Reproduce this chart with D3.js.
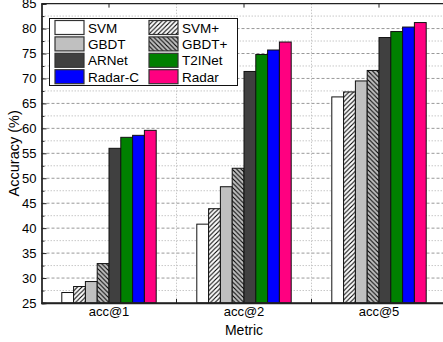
<!DOCTYPE html>
<head>
    <title>Accuracy by metric</title>
    <script src='https://cdn.jsdelivr.net/npm/d3@7/dist/d3.min.js'></script>
</head>
<style>
body { margin: 0; background: #fff; }
text { font-family: 'Liberation Sans', Arial, sans-serif; fill: #000; }
</style>
<body>
    <svg></svg>
</body>

<script>

    // Data
    var metrics = ['acc@1', 'acc@2', 'acc@5'];
    var methods = ['SVM', 'SVM+', 'GBDT', 'GBDT+', 'ARNet', 'T2INet', 'Radar-C', 'Radar'];
    var svm    = [27.1, 40.8, 66.3];
    var svmP   = [28.3, 43.9, 67.3];
    var gbdt   = [29.3, 48.3, 69.5];
    var gbdtP  = [32.9, 52.0, 71.6];
    var arnet  = [56.0, 71.4, 78.2];
    var t2inet = [58.2, 74.8, 79.4];
    var radarC = [58.6, 75.7, 80.3];
    var radar  = [59.6, 77.3, 81.2];
    var yTicks = [25, 30, 35, 40, 45, 50, 55, 60, 65, 70, 75, 80, 85];

    var series = [svm, svmP, gbdt, gbdtP, arnet, t2inet, radarC, radar];
    var fills = ['#ffffff', 'url(#hatchF)', '#c0c0c0', 'url(#hatchB)', '#404040', '#008000', '#0000ff', '#ff0080'];

    var vWidth = 443, vHeight = 342;
    var pLeft = 41.5, pTop = 3.6, pBottom = 303, pRight = 446.5;

    var svg = d3.select('svg').attr('width', vWidth).attr('height', vHeight);

    // hatch patterns
    var defs = svg.append('defs');
    function hatch(id, bg, dir) {
        var p = defs.append('pattern').attr('id', id).attr('patternUnits', 'userSpaceOnUse')
            .attr('width', 4.5).attr('height', 4.5);
        p.append('rect').attr('width', 4.5).attr('height', 4.5).attr('fill', bg);
        var d = dir > 0 ? 'M-1,5.5 L5.5,-1 M-1,1 L1,-1 M3.5,5.5 L5.5,3.5' : 'M-1,-1 L5.5,5.5 M-1,3.5 L1,5.5 M3.5,-1 L5.5,1';
        p.append('path').attr('d', d).attr('stroke', '#000').attr('stroke-width', 1.1);
    }
    hatch('hatchF', '#ffffff', 1);
    hatch('hatchB', '#c0c0c0', -1);

    var x0 = d3.scaleBand().domain(metrics).range([pLeft, pRight]);
    var x1 = d3.scaleBand().domain(methods).range([0, x0.bandwidth()]).paddingOuter(1.72);
    var y = d3.scaleLinear().domain([25, 85]).range([pBottom, pTop]);

    // grid
    var grid = svg.append('g');
    var minor = d3.range(27.5, 85, 5);
    grid.selectAll('.minor').data(minor).enter().append('line')
        .attr('x1', pLeft).attr('x2', vWidth)
        .attr('y1', function (d) { return y(d); }).attr('y2', function (d) { return y(d); })
        .attr('stroke', '#c8c8c8').attr('stroke-dasharray', '1.5,1.5');
    grid.selectAll('.major').data(yTicks.slice(1, -1)).enter().append('line')
        .attr('x1', pLeft).attr('x2', vWidth)
        .attr('y1', function (d) { return y(d); }).attr('y2', function (d) { return y(d); })
        .attr('stroke', '#999').attr('stroke-dasharray', '3,2');
    grid.selectAll('.vgrid').data(metrics.slice(1)).enter().append('line')
        .attr('x1', function (d) { return x0(d); }).attr('x2', function (d) { return x0(d); })
        .attr('y1', pTop).attr('y2', pBottom)
        .attr('stroke', '#c8c8c8').attr('stroke-dasharray', '1.5,1.5');

    // bars
    var groups = svg.append('g').selectAll('g')
        .data(methods).enter().append('g')
        .attr('fill', function (d, i) { return fills[i]; });
    groups.selectAll('rect')
        .data(function (d, i) { return series[i].map(function (v, j) { return { m: d, k: metrics[j], v: v }; }); })
        .enter().append('rect')
        .attr('x', function (d) { return x0(d.k) + x1(d.m); })
        .attr('width', x1.bandwidth())
        .attr('y', function (d) { return y(d.v); })
        .attr('height', function (d) { return pBottom - y(d.v); })
        .attr('stroke', '#111').attr('stroke-width', 1);

    // axes
    var yAxis = svg.append('g').attr('transform', 'translate(' + pLeft + ',0)')
        .call(d3.axisLeft(y).tickValues(yTicks).tickSize(-5).tickPadding(5));
    yAxis.selectAll('text').style('font-size', '13px');
    svg.append('g').attr('transform', 'translate(' + pLeft + ',0)')
        .call(d3.axisLeft(y).tickValues(minor).tickSize(-3).tickFormat(''));

    svg.append('g').attr('transform', 'translate(0,' + pBottom + ')')
        .call(d3.axisBottom(x0).tickSize(0).tickPadding(4))
        .selectAll('text').style('font-size', '13px');
    svg.append('g').selectAll('line').data(metrics.slice(1)).enter().append('line')
        .attr('x1', function (d) { return x0(d); }).attr('x2', function (d) { return x0(d); })
        .attr('y1', pBottom).attr('y2', pBottom - 4).attr('stroke', '#222');
    svg.append('g').selectAll('line').data(metrics).enter().append('line')
        .attr('x1', function (d) { return x0(d) + x0.bandwidth() / 2; })
        .attr('x2', function (d) { return x0(d) + x0.bandwidth() / 2; })
        .attr('y1', pTop).attr('y2', pTop + 4).attr('stroke', '#222');

    svg.selectAll('.domain').attr('stroke', '#222').attr('stroke-width', 1.3);
    svg.selectAll('.tick line').attr('stroke', '#222');
    svg.append('line').attr('x1', pLeft).attr('x2', vWidth).attr('y1', pTop).attr('y2', pTop)
        .attr('stroke', '#222').attr('stroke-width', 1.3);
    svg.append('line').attr('x1', pLeft).attr('x2', vWidth).attr('y1', pBottom).attr('y2', pBottom)
        .attr('stroke', '#222').attr('stroke-width', 1.3);

    // axis titles
    svg.append('text').attr('x', 244).attr('y', 335).attr('text-anchor', 'middle')
        .style('font-size', '14px').text('Metric');
    svg.append('text').attr('transform', 'translate(19,' + ((pTop + pBottom) / 2) + ')rotate(-90)')
        .attr('text-anchor', 'middle').style('font-size', '14.5px').text('Accuracy (%)');

    // legend
    var lg = svg.append('g');
    lg.append('rect').attr('x', 49.5).attr('y', 18.5).attr('width', 188).attr('height', 67)
        .attr('fill', '#fff').attr('stroke', '#111');
    var item = lg.selectAll('.item').data(methods).enter().append('g')
        .attr('transform', function (d, i) {
            return 'translate(' + (i % 2 ? 149 : 55) + ',' + (20.5 + Math.floor(i / 2) * 16.4) + ')';
        });
    item.append('rect').attr('width', 29).attr('height', 14)
        .attr('fill', function (d, i) { return fills[i]; })
        .attr('stroke', '#333').attr('stroke-width', 1.2);
    item.append('text').attr('x', 33).attr('y', 12).style('font-size', '13.5px')
        .text(function (d) { return d; });

</script>
